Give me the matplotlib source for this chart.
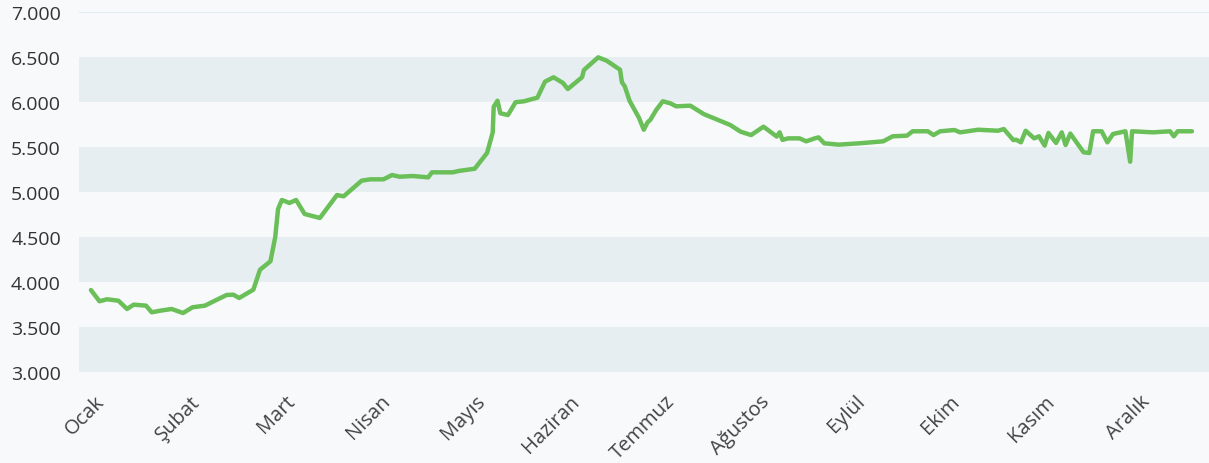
import matplotlib
matplotlib.use("Agg")
import matplotlib.pyplot as plt
import matplotlib.transforms as mtransforms
from matplotlib.ticker import FuncFormatter

months = ["Ocak", "Şubat", "Mart", "Nisan", "Mayıs", "Haziran",
          "Temmuz", "Ağustos", "Eylül", "Ekim", "Kasım", "Aralık"]

# x position in months since the start of Ocak
x_pos = [0.00, 0.09, 0.17, 0.29, 0.38, 0.45, 0.58, 0.64, 0.73, 0.85,
         0.97, 1.07, 1.20, 1.32, 1.43, 1.50, 1.56, 1.71, 1.78, 1.89,
         1.94, 1.97, 2.01, 2.09, 2.16, 2.25, 2.41, 2.59, 2.66, 2.85,
         2.94, 3.08, 3.17, 3.25, 3.39, 3.55, 3.59, 3.81, 3.87, 4.04,
         4.17, 4.23, 4.24, 4.28, 4.31, 4.39, 4.47, 4.56, 4.70, 4.78,
         4.87, 4.97, 5.02, 5.17, 5.19, 5.34, 5.43, 5.57, 5.59, 5.62,
         5.67, 5.77, 5.82, 5.86, 5.89, 5.95, 6.02, 6.10, 6.16, 6.31,
         6.45, 6.73, 6.84, 6.95, 7.08, 7.22, 7.25, 7.28, 7.34, 7.46,
         7.53, 7.62, 7.66, 7.72, 7.87, 8.09, 8.34, 8.44, 8.59, 8.65,
         8.81, 8.87, 8.94, 9.09, 9.15, 9.34, 9.55, 9.61, 9.71, 9.74,
         9.79, 9.84, 9.93, 9.98, 10.04, 10.08, 10.16, 10.22, 10.26, 10.31,
         10.45, 10.51, 10.55, 10.64, 10.70, 10.76, 10.89, 10.94, 10.96, 11.18,
         11.36, 11.40, 11.44, 11.59]

values = [3909, 3784, 3806, 3790, 3698, 3746, 3735, 3661, 3679, 3698,
          3653, 3717, 3735, 3798, 3854, 3857, 3820, 3913, 4135, 4229,
          4496, 4811, 4911, 4878, 4911, 4755, 4711, 4966, 4952, 5126,
          5141, 5141, 5189, 5170, 5178, 5163, 5219, 5219, 5234, 5259,
          5434, 5664, 5949, 6016, 5876, 5857, 5999, 6010, 6050, 6228,
          6277, 6213, 6146, 6277, 6358, 6499, 6461, 6361, 6221, 6176,
          6016, 5824, 5693, 5776, 5805, 5912, 6010, 5987, 5954, 5961,
          5868, 5746, 5671, 5634, 5727, 5617, 5664, 5580, 5597, 5597,
          5564, 5597, 5608, 5542, 5527, 5542, 5564, 5620, 5627, 5676,
          5676, 5634, 5676, 5690, 5664, 5693, 5682, 5701, 5578, 5582,
          5553, 5682, 5597, 5620, 5516, 5657, 5546, 5664, 5523, 5650,
          5442, 5434, 5676, 5676, 5553, 5646, 5676, 5337, 5676, 5664,
          5676, 5620, 5676, 5676]

y_ticks = [3000, 3500, 4000, 4500, 5000, 5500, 6000, 6500, 7000]

bg = "#f8f9fb"
band = "#e7eef1"
green = "#6abf59"
text_color = "#333333"

plt.rcParams["font.family"] = ["Open Sans", "DejaVu Sans"]

fig = plt.figure(figsize=(12.09, 4.64), dpi=100, facecolor=bg)
ax = fig.add_axes([0.0653, 0.1968, 1 - 0.0653, 0.9713 - 0.1968], facecolor=bg)

for lo, hi in zip(y_ticks[0::2], y_ticks[1::2]):
    ax.axhspan(lo, hi, color=band, lw=0, zorder=0)
ax.axhline(y_ticks[-1], color="#e3ecf0", lw=1.6, zorder=0)

ax.plot(x_pos, values, color=green, lw=3.2, solid_joinstyle="round",
        solid_capstyle="round", zorder=3)

ax.set_xlim(-0.126, 11.77)
ax.set_ylim(y_ticks[0], y_ticks[-1])
ax.set_yticks(y_ticks)
ax.yaxis.set_major_formatter(FuncFormatter(lambda v, _: f"{int(v):,}".replace(",", ".")))
ax.set_xticks(range(len(months)))
ax.set_xticklabels(months, rotation=45, ha="right", va="center",
                   rotation_mode="anchor")

ax.tick_params(axis="y", length=0, pad=13, labelsize=14, labelcolor=text_color)
ax.tick_params(axis="x", length=0, pad=19, labelsize=14.5, labelcolor="#444444")
offset = mtransforms.ScaledTranslation(11 / 100, 0, fig.dpi_scale_trans)
for lbl in ax.get_xticklabels():
    lbl.set_transform(lbl.get_transform() + offset)

for s in ax.spines.values():
    s.set_visible(False)

fig.savefig("out.png", dpi=100, facecolor=bg)
